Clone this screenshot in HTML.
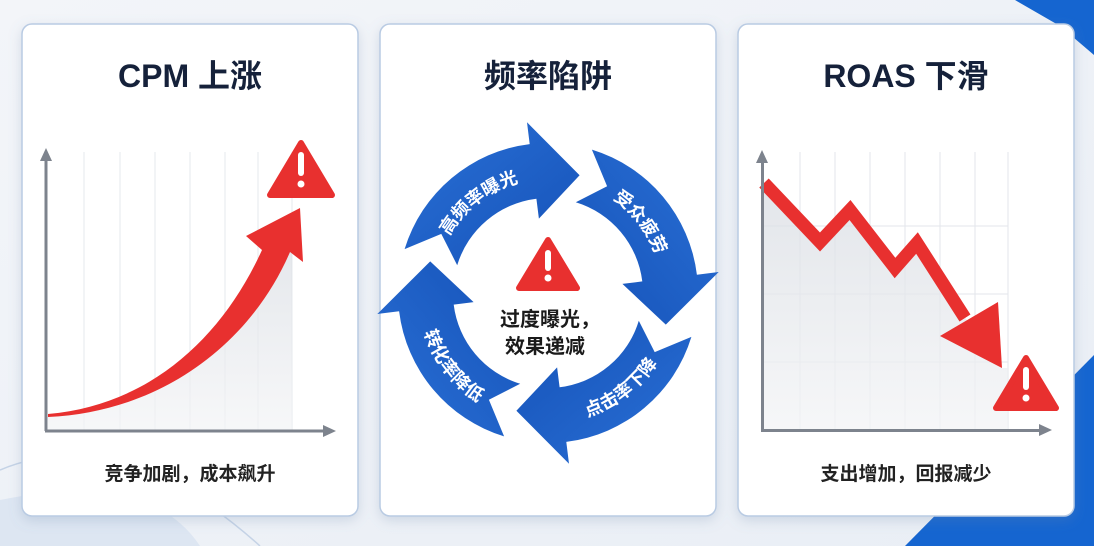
<!DOCTYPE html>
<html><head><meta charset="utf-8"><style>
body{margin:0;width:1094px;height:546px;overflow:hidden;background:#eef2f7;font-family:"Liberation Sans","Noto Sans CJK SC",sans-serif;}
</style></head><body>
<svg width="1094" height="546" viewBox="0 0 1094 546" xmlns="http://www.w3.org/2000/svg" style="position:absolute;left:0;top:0">
<defs>
<linearGradient id="bg" x1="0" y1="0" x2="1" y2="1"><stop offset="0" stop-color="#f3f5f9"/><stop offset="1" stop-color="#e9eef5"/></linearGradient>
<linearGradient id="sh" x1="0" y1="0" x2="0" y2="1"><stop offset="0" stop-color="#d9dde3"/><stop offset="1" stop-color="#f3f4f6"/></linearGradient>
<linearGradient id="bl" x1="0" y1="0" x2="1" y2="1"><stop offset="0" stop-color="#2a70d6"/><stop offset="1" stop-color="#1552b8"/></linearGradient>
<filter id="ds" x="-10%" y="-10%" width="120%" height="120%"><feDropShadow dx="0" dy="4" stdDeviation="6" flood-color="#7088aa" flood-opacity="0.25"/></filter>
</defs>
<rect width="1094" height="546" fill="url(#bg)"/>
<path d="M0 470 Q120 420 260 546" fill="none" stroke="#c5d3e6" stroke-width="1.5"/>
<path d="M0 500 Q150 470 200 546 L0 546Z" fill="#dde6f2"/>
<polygon points="905,546 1094,355 1094,546" fill="#1565d0"/>
<polygon points="1015,0 1094,0 1094,55 1060,26" fill="#1565d0"/>
<!-- cards -->
<g filter="url(#ds)">
<rect x="22" y="24" width="336" height="492" rx="10" fill="#fff" stroke="#b9cbe3" stroke-width="1.5"/>
<rect x="380" y="24" width="336" height="492" rx="10" fill="#fff" stroke="#b9cbe3" stroke-width="1.5"/>
<rect x="738" y="24" width="336" height="492" rx="10" fill="#fff" stroke="#b9cbe3" stroke-width="1.5"/>
</g>
<g font-weight="bold" fill="#15213a" text-anchor="middle">
<text x="190" y="87" font-size="32">CPM 上涨</text>
<text x="548" y="87" font-size="32">频率陷阱</text>
<text x="906" y="87" font-size="32">ROAS 下滑</text>
<text x="190" y="480" font-size="19" fill="#222">竞争加剧，成本飙升</text>
<text x="906" y="480" font-size="19" fill="#222">支出增加，回报减少</text>
</g>
<!-- card1 chart -->
<g stroke="#e6e8ec" stroke-width="1">
<line x1="84" y1="152" x2="84" y2="430"/><line x1="120" y1="152" x2="120" y2="430"/><line x1="155" y1="152" x2="155" y2="430"/><line x1="190" y1="152" x2="190" y2="430"/><line x1="225" y1="152" x2="225" y2="430"/><line x1="258" y1="152" x2="258" y2="430"/><line x1="292" y1="152" x2="292" y2="430"/>
</g>
<path d="M48 415 C150 405 220 345 268 262 L292 240 L292 430 L48 430Z" fill="url(#sh)" opacity="0.7"/>
<g stroke="#7d838d" stroke-width="3" fill="#7d838d">
<line x1="46" y1="158" x2="46" y2="431"/><line x1="45" y1="431" x2="325" y2="431"/>
</g>
<polygon points="46,148 40,161 52,161" fill="#7d838d"/><polygon points="336,431 323,425 323,437" fill="#7d838d"/>
<path d="M48 414 C150 405 222 338 262 250 L246 236 L300 208 L303 262 L290 252 C250 345 160 412 48 417Z" fill="#e8302f"/>
<path d="M301 143 L332 195 L270 195Z" fill="#e8302f" stroke="#e8302f" stroke-width="6" stroke-linejoin="round"/>
<rect x="298" y="152" width="6" height="24" rx="3" fill="#fff"/><circle cx="301" cy="184" r="3.5" fill="#fff"/>
<!-- card3 chart -->
<g stroke="#e3e6eb" stroke-width="1">
<line x1="800" y1="152" x2="800" y2="430"/><line x1="835" y1="152" x2="835" y2="430"/><line x1="870" y1="152" x2="870" y2="430"/><line x1="905" y1="152" x2="905" y2="430"/><line x1="940" y1="152" x2="940" y2="430"/><line x1="975" y1="152" x2="975" y2="430"/><line x1="1008" y1="152" x2="1008" y2="430"/>
<line x1="762" y1="226" x2="1008" y2="226"/><line x1="762" y1="294" x2="1008" y2="294"/><line x1="762" y1="362" x2="1008" y2="362"/>
</g>
<path d="M764 183 L820 240 L850 208 L895 265 L917 240 L968 322 L1002 368 L1008 368 L1008 430 L762 430Z" fill="url(#sh)" opacity="0.75"/>
<polyline points="764,183 820,242 850,210 895,268 917,243 965,318" fill="none" stroke="#e8302f" stroke-width="13" stroke-linejoin="miter"/>
<polygon points="940,336 998,302 1002,368" fill="#e8302f"/>
<g fill="#7d838d"><rect x="761" y="160" width="3" height="272"/><rect x="761" y="429" width="280" height="3"/><polygon points="762,150 756,163 768,163"/><polygon points="1052,430 1039,424 1039,436"/></g>
<path d="M1026 358 L1056 408 L996 408Z" fill="#e8302f" stroke="#e8302f" stroke-width="6" stroke-linejoin="round"/>
<rect x="1023" y="367" width="6" height="23" rx="3" fill="#fff"/><circle cx="1026" cy="398" r="3.5" fill="#fff"/>
<!-- cycle -->
<g id="a1"><path d="M404.6 249.1 A150 150 0 0 1 529.7 144.1 L527 122.3 L579.6 175.2 L538.9 218.6 L536.4 198.7 A95 95 0 0 0 457.2 265.2 L441.3 233.9 Z" fill="url(#bl)"/></g>
<use href="#a1" transform="rotate(90 548 293)"/>
<use href="#a1" transform="rotate(180 548 293)"/>
<use href="#a1" transform="rotate(270 548 293)"/>
<path id="t1" d="M440.9 254 A114 114 0 0 1 538.1 179.4" fill="none"/>
<path id="t2" d="M587 185.9 A114 114 0 0 1 661.6 283.1" fill="none"/>
<path id="t3" d="M559.3 422.5 A130 130 0 0 0 670.2 337.5" fill="none"/>
<path id="t4" d="M418.5 304.3 A130 130 0 0 0 503.5 415.2" fill="none"/>
<g fill="#fff" font-size="18" font-weight="bold">
<text><textPath href="#t1" startOffset="50%" text-anchor="middle">高频率曝光</textPath></text>
<text><textPath href="#t2" startOffset="50%" text-anchor="middle">受众疲劳</textPath></text>
<text><textPath href="#t3" startOffset="50%" text-anchor="middle">点击率下降</textPath></text>
<text><textPath href="#t4" startOffset="50%" text-anchor="middle">转化率降低</textPath></text>
</g>
<path d="M548 240 L577 288 L519 288Z" fill="#e8302f" stroke="#e8302f" stroke-width="6" stroke-linejoin="round"/>
<rect x="545" y="250" width="6" height="21" rx="3" fill="#fff"/><circle cx="548" cy="278" r="3.5" fill="#fff"/>
<g font-weight="bold" font-size="20" fill="#1a1a1a" text-anchor="middle">
<text x="550" y="326">过度曝光，</text><text x="545" y="353">效果递减</text>
</g>
</svg>
</body></html>
